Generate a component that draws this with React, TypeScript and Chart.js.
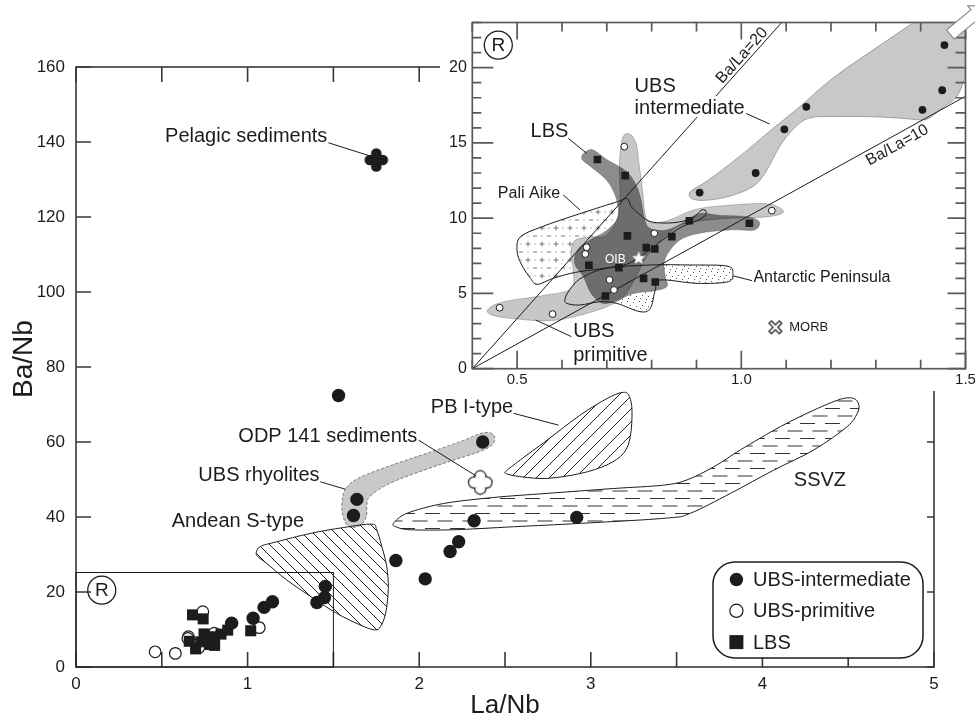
import React, { useEffect, useRef } from 'react';
import { Chart, registerables } from 'chart.js';

Chart.register(...registerables);

type Pt = [number, number];

const FONT = '"Liberation Sans", Arial, Helvetica, sans-serif';
const INK = '#1c1c1c';

// ---------- samples: [La/Nb, Ba/Nb] ----------
const UBS_INTERMEDIATE: Pt[] = [
  [0.907, 11.7], [1.032, 13.0], [1.096, 15.9], [1.145, 17.4], [1.404, 17.2], [1.448, 18.5], [1.453, 21.5],
  [1.617, 40.4], [1.637, 44.7], [1.53, 72.4], [1.864, 28.4], [2.035, 23.5], [2.18, 30.8], [2.23, 33.4],
  [2.32, 39.0], [2.37, 60.0], [2.918, 39.9],
];
const UBS_PRIMITIVE: Pt[] = [
  [0.739, 14.75], [1.068, 10.5], [0.806, 9.0], [0.655, 8.07], [0.652, 7.62], [0.706, 5.9], [0.716, 5.23],
  [0.461, 4.05], [0.579, 3.63],
];
const LBS: Pt[] = [
  [0.679, 13.9], [0.741, 12.83], [0.746, 8.82], [0.788, 8.04], [0.807, 7.95], [0.845, 8.77], [0.884, 9.83],
  [0.66, 6.87], [0.727, 6.71], [0.782, 6.0], [0.808, 5.76], [0.697, 4.83], [1.018, 9.66],
];
const PELAGIC_SEDIMENTS: Pt[] = [[1.75, 135.2]];
const ODP_141_SEDIMENTS: Pt[] = [[2.356, 49.2]];
const MORB: Pt[] = [[1.076, 2.75]];
const OIB: Pt[] = [[0.771, 7.33]];

// ---------- axis ranges ----------
const MAIN_X_RANGE: Pt = [0, 5];
const MAIN_X_STEP = 0.5;
const MAIN_Y_RANGE: Pt = [0, 160];
const MAIN_Y_STEP = 20;
const INSET_X_RANGE: Pt = [0.4, 1.5];
const INSET_X_STEP = 0.1;
const INSET_Y_RANGE: Pt = [0, 23];
const INSET_Y_STEP = 1;

// ---------- fields of the main diagram ----------
const ANDEAN_S_TYPE: Pt[] = [
  [1.05, 30.3], [1.073, 32.1], [1.17, 33.4], [1.364, 35.6], [1.559, 37.2], [1.724, 38.1], [1.752, 36.6],
  [1.78, 32.5], [1.81, 27], [1.82, 21], [1.805, 14.5], [1.775, 10.8], [1.74, 9.9], [1.656, 11.2],
  [1.52, 14.3], [1.384, 18.3], [1.228, 23.2], [1.112, 27.6], [1.065, 29.2],
];
const PB_I_TYPE: Pt[] = [
  [2.51, 51.5], [2.6, 50.7], [2.745, 50.3], [2.939, 51.6], [3.094, 53.9], [3.191, 57.0], [3.23, 61.4],
  [3.24, 68.5], [3.221, 72.5], [3.182, 73.2], [3.095, 71.6], [2.939, 67.2], [2.745, 60.5], [2.589, 55.2],
  [2.508, 52.3],
];
const SSVZ: Pt[] = [
  [1.85, 38.3], [1.93, 41.0], [2.142, 43.6], [2.433, 45.2], [2.745, 46.3], [3.133, 47.6], [3.425, 48.5],
  [3.561, 49.9], [3.717, 53.4], [3.872, 57.9], [4.105, 64.1], [4.3, 68.5], [4.455, 71.4], [4.533, 71.6],
  [4.562, 69.9], [4.552, 67.6], [4.494, 64.1], [4.3, 57.9], [4.066, 52.5], [3.814, 46.3], [3.58, 41.0],
  [3.44, 39.7], [2.939, 38.3], [2.55, 37.4], [2.2, 36.6], [1.95, 36.6], [1.87, 37.3],
];
const UBS_RHYOLITE_FIELD: Pt[] = [
  [1.575, 47.8], [1.656, 50.6], [1.85, 54.0], [2.045, 57.0], [2.239, 60.1], [2.375, 62.5], [2.435, 61.8],
  [2.428, 59.4], [2.356, 57.5], [2.142, 54.3], [1.85, 49.4], [1.72, 45.8], [1.695, 43.4], [1.692, 40.1],
  [1.65, 37.6], [1.585, 37.6], [1.552, 41.0], [1.552, 44.8],
];
const REGION_R: Pt[] = [[0, 0], [1.5, 25.2]];

// ---------- fields of the enlarged region R ----------
const UBS_INTERMEDIATE_FIELD: Pt[] = [
  [0.885, 11.7], [0.93, 12.6], [1.0, 14.2], [1.06, 15.7], [1.13, 17.4], [1.204, 19.3], [1.3, 21.3],
  [1.384, 23.0], [1.43, 24.0], [1.56, 24.0], [1.56, 19.6], [1.503, 19.29], [1.489, 18.52], [1.474, 17.86],
  [1.452, 17.41], [1.429, 16.86], [1.407, 16.53], [1.355, 16.64], [1.28, 16.75], [1.206, 16.75],
  [1.161, 16.7], [1.13, 16.3], [1.09, 14.97], [1.051, 12.9], [1.02, 12.0], [0.96, 11.35], [0.9, 11.2],
];
const UBS_PRIMITIVE_FIELD: Pt[] = [
  [0.435, 3.95], [0.47, 4.45], [0.556, 4.85], [0.62, 5.3], [0.625, 6.5], [0.62, 7.6], [0.628, 8.5],
  [0.66, 8.75], [0.7, 8.9], [0.728, 10.5], [0.728, 13.5], [0.735, 15.3], [0.75, 15.6], [0.765, 15.0],
  [0.772, 13.6], [0.78, 11.8], [0.79, 9.9], [0.83, 9.8], [0.9, 10.6], [0.98, 10.88], [1.06, 10.95],
  [1.094, 10.45], [1.06, 10.1], [0.95, 9.95], [0.87, 9.6], [0.83, 8.8], [0.79, 7.5], [0.76, 5.8],
  [0.73, 4.6], [0.67, 3.8], [0.58, 3.2], [0.5, 3.3], [0.445, 3.55],
];
const LBS_FIELD: Pt[] = [
  [0.648, 14.3], [0.668, 14.55], [0.7, 13.9], [0.744, 13.1], [0.767, 12.1], [0.778, 11.0], [0.783, 10.1],
  [0.795, 9.35], [0.83, 9.2], [0.864, 9.6], [0.905, 10.3], [0.95, 10.2], [1.013, 10.1], [1.04, 9.77],
  [1.029, 9.22], [0.975, 9.22], [0.907, 9.0], [0.861, 8.5], [0.83, 7.3], [0.83, 6.2], [0.835, 5.5],
  [0.81, 5.2], [0.76, 5.0], [0.72, 4.5], [0.69, 4.35], [0.665, 5.0], [0.648, 6.1], [0.628, 7.0],
  [0.635, 7.9], [0.66, 8.5], [0.7, 9.2], [0.725, 10.1], [0.72, 11.4], [0.7, 12.5], [0.665, 13.4],
  [0.645, 13.9],
];
const PALI_AIKE: Pt[] = [
  [0.507, 8.75], [0.556, 9.44], [0.64, 10.3], [0.724, 11.1], [0.745, 11.3], [0.755, 10.75], [0.775, 10.2],
  [0.8, 9.75], [0.85, 9.7], [0.89, 10.0], [0.912, 10.55], [0.922, 10.4], [0.91, 9.95], [0.86, 9.3],
  [0.8, 8.0], [0.75, 7.0], [0.7, 6.7], [0.63, 6.4], [0.58, 6.0], [0.545, 5.6], [0.53, 6.0], [0.51, 6.9],
  [0.5, 7.8],
];
const ANTARCTIC_PENINSULA: Pt[] = [
  [0.607, 4.67], [0.622, 5.45], [0.648, 6.11], [0.7, 6.67], [0.797, 6.89], [0.886, 6.89], [0.968, 6.82],
  [0.981, 6.34], [0.971, 5.78], [0.901, 5.67], [0.819, 5.89], [0.808, 5.23], [0.797, 4.01], [0.774, 3.79],
  [0.722, 4.34], [0.685, 4.45], [0.64, 4.23], [0.611, 4.34],
];
const BA_LA_20: Pt[] = [[0.4, 0], [1.09, 23]];
const BA_LA_10: Pt[] = [[0.4, 0], [1.5, 18.1]];
const INTERMEDIATE_TREND: Pt[] = [[1.466, 22.2], [1.543, 24.1]];

// ---------- annotations ----------
type Label = { text: string; at: Pt; size?: number; color?: string; halo?: number };
const MAIN_LABELS: Label[] = [
  { text: 'Pelagic sediments', at: [0.519, 141.4] },
  { text: 'ODP 141 sediments', at: [0.946, 61.4] },
  { text: 'UBS rhyolites', at: [0.713, 51.2] },
  { text: 'Andean S-type', at: [0.558, 38.7] },
  { text: 'PB I-type', at: [2.068, 69.1] },
  { text: 'SSVZ', at: [4.183, 49.7] },
];
const MAIN_LEADERS: Pt[][] = [
  [[1.471, 139.8], [1.705, 136.4]],
  [[1.996, 60.5], [2.33, 51.0]],
  [[1.423, 49.4], [1.57, 47.4]],
  [[2.55, 67.65], [2.812, 64.5]],
];
const INSET_LABELS: Label[] = [
  { text: 'UBS', at: [0.762, 18.74], size: 20 },
  { text: 'intermediate', at: [0.762, 17.32], size: 20, halo: 6 },
  { text: 'LBS', at: [0.53, 15.75], size: 20 },
  { text: 'Pali Aike', at: [0.457, 11.65], size: 16 },
  { text: 'Antarctic Peninsula', at: [1.027, 6.07], size: 16 },
  { text: 'UBS', at: [0.625, 2.46], size: 20 },
  { text: 'primitive', at: [0.625, 0.91], size: 20 },
  { text: 'OIB', at: [0.696, 7.22], size: 12, color: '#ffffff' },
  { text: 'MORB', at: [1.107, 2.75], size: 13 },
];
const INSET_LEADERS: Pt[][] = [
  [[1.0096, 16.97], [1.063, 16.26]],
  [[0.614, 15.31], [0.655, 14.31]],
  [[0.603, 11.54], [0.64, 10.55]],
  [[0.983, 6.16], [1.024, 5.85]],
  [[0.621, 2.13], [0.541, 3.24]],
];
const RATIO_LABELS = [
  { text: 'Ba/La=20', line: BA_LA_20, t: 0.89, offset: -7.5 },
  { text: 'Ba/La=10', line: BA_LA_10, t: 0.852, offset: 10 },
];
const LEGEND_ITEMS = [
  { text: 'UBS-intermediate', kind: 'dot' },
  { text: 'UBS-primitive', kind: 'ring' },
  { text: 'LBS', kind: 'square' },
];

// ---------- drawing helpers ----------
const toPts = (a: Pt[]) => a.map(([x, y]) => ({ x, y }));

function px(chart: any, p: Pt): [number, number] {
  return [chart.scales.x.getPixelForValue(p[0]), chart.scales.y.getPixelForValue(p[1])];
}

function smoothClosed(ctx: CanvasRenderingContext2D, p: { x: number; y: number }[]) {
  const n = p.length;
  ctx.moveTo(p[0].x, p[0].y);
  for (let i = 0; i < n; i++) {
    const p0 = p[(i - 1 + n) % n], p1 = p[i], p2 = p[(i + 1) % n], p3 = p[(i + 2) % n];
    ctx.bezierCurveTo(
      p1.x + (p2.x - p0.x) / 6, p1.y + (p2.y - p0.y) / 6,
      p2.x - (p3.x - p1.x) / 6, p2.y - (p3.y - p1.y) / 6,
      p2.x, p2.y,
    );
  }
  ctx.closePath();
}

type Field = { pts: Pt[]; fills: (string | CanvasPattern)[]; stroke?: string; width?: number; dash?: number[] };

function drawFields(chart: any, fields: Field[], outlineOnly = false) {
  const { ctx, chartArea: a } = chart;
  ctx.save();
  ctx.beginPath();
  ctx.rect(a.left, a.top, a.right - a.left, a.bottom - a.top);
  ctx.clip();
  for (const f of fields) {
    const pts = f.pts.map((q) => {
      const [x, y] = px(chart, q);
      return { x, y };
    });
    ctx.beginPath();
    smoothClosed(ctx, pts);
    if (!outlineOnly) {
      for (const fl of f.fills) {
        ctx.fillStyle = fl;
        ctx.fill();
      }
    }
    if (f.stroke) {
      ctx.setLineDash(f.dash || []);
      ctx.lineWidth = f.width || 1;
      ctx.strokeStyle = f.stroke;
      ctx.stroke();
    }
  }
  ctx.restore();
}

function makeCanvas(w: number, h: number) {
  const c = document.createElement('canvas');
  c.width = w;
  c.height = h;
  return c;
}

function hatch(s: number, back: boolean): CanvasPattern {
  const c = makeCanvas(s, s);
  const g = c.getContext('2d')!;
  g.strokeStyle = '#222';
  g.lineWidth = 1;
  g.beginPath();
  if (back) {
    g.moveTo(0, 0); g.lineTo(s, s);
    g.moveTo(-s / 2, s / 2); g.lineTo(s / 2, s * 1.5);
    g.moveTo(s / 2, -s / 2); g.lineTo(s * 1.5, s / 2);
  } else {
    g.moveTo(0, s); g.lineTo(s, 0);
    g.moveTo(-s / 2, s / 2); g.lineTo(s / 2, -s / 2);
    g.moveTo(s / 2, s * 1.5); g.lineTo(s * 1.5, s / 2);
  }
  g.stroke();
  return g.createPattern(c, 'repeat')!;
}

function dashRows(): CanvasPattern {
  const c = makeCanvas(25, 15);
  const g = c.getContext('2d')!;
  g.fillStyle = '#333';
  g.fillRect(0, 3, 15, 1);
  g.fillRect(12.5, 10.5, 12.5, 1);
  g.fillRect(0, 10.5, 2.5, 1);
  return g.createPattern(c, 'repeat')!;
}

function crossPattern(): CanvasPattern {
  const c = makeCanvas(14, 16);
  const g = c.getContext('2d')!;
  g.strokeStyle = '#555';
  g.lineWidth = 0.8;
  g.beginPath();
  g.moveTo(1.5, 4); g.lineTo(6.5, 4);
  g.moveTo(4, 1.5); g.lineTo(4, 6.5);
  g.moveTo(9, 12); g.lineTo(13, 12);
  g.stroke();
  g.fillStyle = '#666';
  g.fillRect(10.5, 3.5, 1, 1);
  g.fillRect(3.5, 11.5, 1, 1);
  return g.createPattern(c, 'repeat')!;
}

function dotPattern(): CanvasPattern {
  const c = makeCanvas(12, 10);
  const g = c.getContext('2d')!;
  g.fillStyle = '#555';
  [[1, 2], [7, 1], [4, 6], [10, 5], [2, 9], [8, 8]].forEach(([x, y]) => g.fillRect(x, y, 1, 1));
  return g.createPattern(c, 'repeat')!;
}

function quatrefoil(size: number, d: number, r: number, fill: string, outline: string | null) {
  const c = makeCanvas(size, size);
  const g = c.getContext('2d')!;
  const m = size / 2;
  const centres = [[m, m - d], [m + d, m], [m, m + d], [m - d, m]];
  if (outline) {
    g.strokeStyle = outline;
    g.lineWidth = 2.4;
    centres.forEach(([x, y]) => { g.beginPath(); g.arc(x, y, r, 0, Math.PI * 2); g.stroke(); });
  }
  g.fillStyle = fill;
  centres.forEach(([x, y]) => { g.beginPath(); g.arc(x, y, r, 0, Math.PI * 2); g.fill(); });
  g.beginPath();
  g.arc(m, m, d * 0.9, 0, Math.PI * 2);
  g.fill();
  return c;
}

function hollowCross() {
  const c = makeCanvas(16, 16);
  const g = c.getContext('2d')!;
  g.lineCap = 'square';
  const path = () => { g.beginPath(); g.moveTo(4, 4); g.lineTo(12, 12); g.moveTo(12, 4); g.lineTo(4, 12); };
  path(); g.strokeStyle = INK; g.lineWidth = 4.6; g.stroke();
  path(); g.strokeStyle = '#fff'; g.lineWidth = 2.2; g.stroke();
  return c;
}

function whiteStar() {
  const c = makeCanvas(18, 18);
  const g = c.getContext('2d')!;
  g.beginPath();
  for (let i = 0; i < 10; i++) {
    const r = i % 2 === 0 ? 7.5 : 3.2;
    const a = -Math.PI / 2 + (i * Math.PI) / 5;
    const x = 9 + r * Math.cos(a), y = 9 + r * Math.sin(a);
    if (i === 0) g.moveTo(x, y); else g.lineTo(x, y);
  }
  g.closePath();
  g.fillStyle = '#fff';
  g.fill();
  g.strokeStyle = 'rgba(0,0,0,0.25)';
  g.lineWidth = 0.6;
  g.stroke();
  return c;
}

function text(ctx: CanvasRenderingContext2D, s: string, x: number, y: number, size: number,
  o: { align?: CanvasTextAlign; color?: string; halo?: number } = {}) {
  ctx.save();
  ctx.font = `${size}px ${FONT}`;
  ctx.textAlign = o.align || 'left';
  ctx.textBaseline = 'middle';
  if (o.halo) {
    ctx.lineWidth = o.halo;
    ctx.lineJoin = 'round';
    ctx.strokeStyle = '#fff';
    ctx.strokeText(s, x, y);
  }
  ctx.fillStyle = o.color || INK;
  ctx.fillText(s, x, y);
  ctx.restore();
}

function drawLeaders(chart: any, leaders: Pt[][]) {
  const ctx = chart.ctx;
  ctx.save();
  ctx.strokeStyle = INK;
  ctx.lineWidth = 1;
  ctx.beginPath();
  for (const seg of leaders) {
    seg.forEach((p, i) => {
      const [x, y] = px(chart, p);
      if (i === 0) ctx.moveTo(x, y); else ctx.lineTo(x, y);
    });
  }
  ctx.stroke();
  ctx.restore();
}

function drawLabels(chart: any, labels: Label[], defSize: number) {
  for (const l of labels) {
    const [x, y] = px(chart, l.at);
    text(chart.ctx, l.text, x, y, l.size || defSize, { color: l.color, halo: l.halo });
  }
}

function circledR(ctx: CanvasRenderingContext2D, x: number, y: number) {
  ctx.save();
  ctx.beginPath();
  ctx.arc(x, y, 14, 0, Math.PI * 2);
  ctx.strokeStyle = INK;
  ctx.lineWidth = 1.3;
  ctx.stroke();
  ctx.restore();
  text(ctx, 'R', x, y + 0.5, 19, { align: 'center' });
}

type Side = [number, number];
function drawFrame(chart: any, color: string, width: number, sides: { top: Side; bottom: Side; left: Side; right: Side },
  xMajor: (v: number) => boolean, yMajor: (v: number) => boolean) {
  const { ctx, chartArea: a } = chart;
  const xs = chart.scales.x, ys = chart.scales.y;
  ctx.save();
  ctx.strokeStyle = color;
  ctx.lineWidth = width;
  ctx.beginPath();
  for (const t of xs.ticks) {
    const p = xs.getPixelForValue(t.value);
    const k = xMajor(t.value) ? 1 : 0;
    ctx.moveTo(p, a.bottom); ctx.lineTo(p, a.bottom - sides.bottom[k]);
    ctx.moveTo(p, a.top); ctx.lineTo(p, a.top + sides.top[k]);
  }
  for (const t of ys.ticks) {
    const p = ys.getPixelForValue(t.value);
    const k = yMajor(t.value) ? 1 : 0;
    ctx.moveTo(a.left, p); ctx.lineTo(a.left + sides.left[k], p);
    ctx.moveTo(a.right, p); ctx.lineTo(a.right - sides.right[k], p);
  }
  ctx.stroke();
  ctx.strokeRect(a.left, a.top, a.right - a.left, a.bottom - a.top);
  ctx.restore();
}

function roundedBox(ctx: CanvasRenderingContext2D, x: number, y: number, w: number, h: number, r: number) {
  ctx.beginPath();
  ctx.moveTo(x + r, y);
  ctx.arcTo(x + w, y, x + w, y + h, r);
  ctx.arcTo(x + w, y + h, x, y + h, r);
  ctx.arcTo(x, y + h, x, y, r);
  ctx.arcTo(x, y, x + w, y, r);
  ctx.closePath();
}

const near = (v: number, step: number) => Math.abs(v / step - Math.round(v / step)) < 1e-6;

function axisOpts(range: Pt, step: number, size: number, padding: number, fit: (s: any) => void, cb: (v: number) => string) {
  return {
    type: 'linear',
    min: range[0],
    max: range[1],
    afterFit: fit,
    grid: { display: false, drawTicks: false },
    border: { display: false },
    ticks: {
      stepSize: step,
      autoSkip: false,
      maxRotation: 0,
      minRotation: 0,
      padding,
      color: INK,
      font: { family: FONT, size },
      callback: (v: any) => cb(Number(v)),
    },
  };
}

export default function App() {
  const mainRef = useRef<HTMLCanvasElement>(null);
  const insetRef = useRef<HTMLCanvasElement>(null);

  useEffect(() => {
    const back = hatch(11, true);
    const fwd = hatch(13, false);
    const dashes = dashRows();
    const crosses = crossPattern();
    const dots = dotPattern();

    const mainFields: Field[] = [
      { pts: UBS_RHYOLITE_FIELD, fills: ['#c9c9c9'], stroke: 'rgba(0,0,0,0.45)', width: 1, dash: [3, 2] },
      { pts: ANDEAN_S_TYPE, fills: [back], stroke: INK, width: 1 },
      { pts: PB_I_TYPE, fills: [fwd], stroke: INK, width: 1 },
      { pts: SSVZ, fills: [dashes], stroke: INK, width: 1 },
    ];

    const main = new Chart(mainRef.current as HTMLCanvasElement, {
      type: 'scatter',
      data: {
        datasets: [
          { label: 'UBS-intermediate', data: toPts(UBS_INTERMEDIATE), pointStyle: 'circle', pointRadius: 6.7,
            pointBackgroundColor: INK, pointBorderColor: INK, pointBorderWidth: 0, order: 1 },
          { label: 'LBS', data: toPts(LBS), pointStyle: 'rect', pointRadius: 7.8,
            pointBackgroundColor: INK, pointBorderColor: INK, pointBorderWidth: 0, order: 2 },
          { label: 'UBS-primitive', data: toPts(UBS_PRIMITIVE), pointStyle: 'circle', pointRadius: 5.8,
            pointBackgroundColor: '#fff', pointBorderColor: INK, pointBorderWidth: 1.2, order: 3 },
          { label: 'Pelagic sediments', data: toPts(PELAGIC_SEDIMENTS), pointStyle: quatrefoil(26, 6.5, 5.3, INK, null),
            pointRadius: 12, order: 0 },
          { label: 'ODP 141 sediments', data: toPts(ODP_141_SEDIMENTS), pointStyle: quatrefoil(28, 6.2, 5.0, '#fff', INK),
            pointRadius: 12, order: 0 },
        ],
      } as any,
      options: {
        responsive: false,
        animation: false,
        events: [],
        layout: { padding: { left: 0, top: 67, right: 41, bottom: 0 } },
        plugins: { legend: { display: false }, tooltip: { enabled: false }, colors: { enabled: false } },
        scales: {
          x: axisOpts(MAIN_X_RANGE, MAIN_X_STEP, 17, 7, (s) => { s.height = 50; },
            (v) => (near(v, 1) ? String(Math.round(v)) : '')),
          y: axisOpts(MAIN_Y_RANGE, MAIN_Y_STEP, 17, 11, (s) => { s.width = 76; },
            (v) => String(Math.round(v))),
        },
      } as any,
      plugins: [
        {
          id: 'mainDecor',
          beforeDatasetsDraw(chart: any) {
            drawFields(chart, mainFields);
          },
          afterDatasetsDraw(chart: any) {
            const ctx = chart.ctx as CanvasRenderingContext2D;
            const a = chart.chartArea;
            drawFrame(chart, '#383838', 1.6, { top: [15, 15], bottom: [15, 15], left: [15, 15], right: [7, 7] },
              () => true, () => true);
            // outline of the enlarged region
            const [rx0, ry0] = px(chart, REGION_R[0]);
            const [rx1, ry1] = px(chart, REGION_R[1]);
            ctx.save();
            ctx.strokeStyle = INK;
            ctx.lineWidth = 1;
            ctx.strokeRect(rx0, ry1, rx1 - rx0, ry0 - ry1);
            ctx.restore();
            const [cx, cy] = px(chart, [0.15, 20.5]);
            circledR(ctx, cx, cy);
            drawLeaders(chart, MAIN_LEADERS);
            drawLabels(chart, MAIN_LABELS, 20);

            // legend
            const L = a.right - 221, T = a.bottom - 105;
            ctx.save();
            roundedBox(ctx, L, T, 210, 96, 22);
            ctx.fillStyle = '#fff';
            ctx.fill();
            ctx.strokeStyle = INK;
            ctx.lineWidth = 1.5;
            ctx.stroke();
            LEGEND_ITEMS.forEach((it, i) => {
              const y = T + 17.5 + i * 31.3;
              const x = L + 23.4;
              ctx.beginPath();
              if (it.kind === 'square') {
                ctx.fillStyle = INK;
                ctx.fillRect(x - 7, y - 7, 14, 14);
              } else {
                ctx.arc(x, y, it.kind === 'dot' ? 6.7 : 6.6, 0, Math.PI * 2);
                if (it.kind === 'dot') { ctx.fillStyle = INK; ctx.fill(); }
                else { ctx.fillStyle = '#fff'; ctx.fill(); ctx.strokeStyle = INK; ctx.lineWidth = 1.2; ctx.stroke(); }
              }
              text(ctx, it.text, L + 40, y + 1, 20);
            });
            ctx.restore();

            // axis titles
            ctx.save();
            ctx.fillStyle = INK;
            ctx.font = `26px ${FONT}`;
            ctx.textAlign = 'center';
            ctx.textBaseline = 'alphabetic';
            ctx.fillText('La/Nb', (a.left + a.right) / 2, 713);
            ctx.translate(31.5, (a.top + a.bottom) / 2 - 8);
            ctx.rotate(-Math.PI / 2);
            ctx.font = `28px ${FONT}`;
            ctx.fillText('Ba/Nb', 0, 0);
            ctx.restore();
          },
        },
      ],
    });

    // patterned fields first, then a white base under the grey fields so
    // the patterns do not show through, then the translucent greys
    const insetFields: Field[] = [
      { pts: PALI_AIKE, fills: ['#fff', crosses] },
      { pts: ANTARCTIC_PENINSULA, fills: ['#fff', dots] },
      { pts: UBS_PRIMITIVE_FIELD, fills: ['#fff'] },
      { pts: LBS_FIELD, fills: ['#fff'] },
      { pts: UBS_PRIMITIVE_FIELD, fills: ['rgba(0,0,0,0.22)'], stroke: 'rgba(0,0,0,0.22)', width: 1 },
      { pts: LBS_FIELD, fills: ['rgba(0,0,0,0.45)'], stroke: 'rgba(0,0,0,0.2)', width: 1 },
      { pts: UBS_INTERMEDIATE_FIELD, fills: ['rgba(0,0,0,0.215)'], stroke: 'rgba(0,0,0,0.3)', width: 1 },
    ];
    const outlined: Field[] = [
      { pts: PALI_AIKE, fills: [], stroke: INK, width: 1 },
      { pts: ANTARCTIC_PENINSULA, fills: [], stroke: INK, width: 1 },
    ];

    const inset = new Chart(insetRef.current as HTMLCanvasElement, {
      type: 'scatter',
      data: {
        datasets: [
          { label: 'UBS-intermediate', data: toPts(UBS_INTERMEDIATE), pointStyle: 'circle', pointRadius: 3.9,
            pointBackgroundColor: INK, pointBorderColor: INK, pointBorderWidth: 0, order: 1 },
          { label: 'LBS', data: toPts(LBS), pointStyle: 'rect', pointRadius: 5.4,
            pointBackgroundColor: INK, pointBorderColor: INK, pointBorderWidth: 0, order: 2 },
          { label: 'UBS-primitive', data: toPts(UBS_PRIMITIVE), pointStyle: 'circle', pointRadius: 3.4,
            pointBackgroundColor: '#fff', pointBorderColor: INK, pointBorderWidth: 1, order: 3 },
          { label: 'OIB', data: toPts(OIB), pointStyle: whiteStar(), pointRadius: 8, order: 0 },
          { label: 'MORB', data: toPts(MORB), pointStyle: hollowCross(), pointRadius: 8, order: 0 },
          { label: 'Ba/La=20', data: toPts(BA_LA_20), showLine: true, pointRadius: 0, borderColor: INK,
            borderWidth: 1, order: 10 },
          { label: 'Ba/La=10', data: toPts(BA_LA_10), showLine: true, pointRadius: 0, borderColor: INK,
            borderWidth: 1, order: 10 },
        ],
      } as any,
      options: {
        responsive: false,
        animation: false,
        events: [],
        layout: { padding: { left: 0, top: 22.5, right: 29.5, bottom: 0 } },
        plugins: { legend: { display: false }, tooltip: { enabled: false }, colors: { enabled: false } },
        scales: {
          x: axisOpts(INSET_X_RANGE, INSET_X_STEP, 15, 2, (s) => { s.height = 22.3; },
            (v) => (near(v, 0.5) ? v.toFixed(1) : '')),
          y: axisOpts(INSET_Y_RANGE, INSET_Y_STEP, 16, 5.5, (s) => { s.width = 32.3; },
            (v) => (near(v, 5) ? String(Math.round(v)) : '')),
        },
      } as any,
      plugins: [
        {
          id: 'insetDecor',
          beforeDatasetsDraw(chart: any) {
            drawFields(chart, insetFields);
            drawFields(chart, outlined, true);
          },
          afterDatasetsDraw(chart: any) {
            const ctx = chart.ctx as CanvasRenderingContext2D;
            drawFrame(chart, '#595959', 1.7, { top: [9, 17], bottom: [9, 18], left: [9, 21], right: [10, 18] },
              (v) => near(v, 0.5), (v) => near(v, 5));
            drawLeaders(chart, INSET_LEADERS);
            drawLabels(chart, INSET_LABELS, 16);

            for (const r of RATIO_LABELS) {
              const [x0, y0] = px(chart, r.line[0]);
              const [x1, y1] = px(chart, r.line[1]);
              ctx.save();
              ctx.translate(x0 + (x1 - x0) * r.t, y0 + (y1 - y0) * r.t);
              ctx.rotate(Math.atan2(y1 - y0, x1 - x0));
              text(ctx, r.text, 0, r.offset, 16, { align: 'center' });
              ctx.restore();
            }

            const [cx, cy] = px(chart, [0.458, 21.5]);
            circledR(ctx, cx, cy);

            // arrow: intermediate trend continues beyond the frame
            const [ax0, ay0] = px(chart, INTERMEDIATE_TREND[0]);
            const [ax1, ay1] = px(chart, INTERMEDIATE_TREND[1]);
            const len = Math.hypot(ax1 - ax0, ay1 - ay0);
            ctx.save();
            ctx.translate(ax0, ay0);
            ctx.rotate(Math.atan2(ay1 - ay0, ax1 - ax0));
            const w = 6, hw = 11, hl = 13;
            ctx.beginPath();
            ctx.moveTo(0, -w); ctx.lineTo(len - hl, -w); ctx.lineTo(len - hl, -hw); ctx.lineTo(len, 0);
            ctx.lineTo(len - hl, hw); ctx.lineTo(len - hl, w); ctx.lineTo(0, w); ctx.closePath();
            ctx.fillStyle = '#fff';
            ctx.fill();
            ctx.strokeStyle = '#8c8c8c';
            ctx.lineWidth = 1.2;
            ctx.stroke();
            ctx.restore();
          },
        },
      ],
    });

    return () => {
      main.destroy();
      inset.destroy();
    };
  }, []);

  return (
    <div style={{ position: 'absolute', left: 0, top: 0, width: 975, height: 717, overflow: 'hidden', background: '#fff' }}>
      <canvas ref={mainRef} width={975} height={717} style={{ position: 'absolute', left: 0, top: 0 }} />
      <canvas ref={insetRef} width={555} height={391}
        style={{ position: 'absolute', left: 440, top: 0, background: '#fff' }} />
    </div>
  );
}
